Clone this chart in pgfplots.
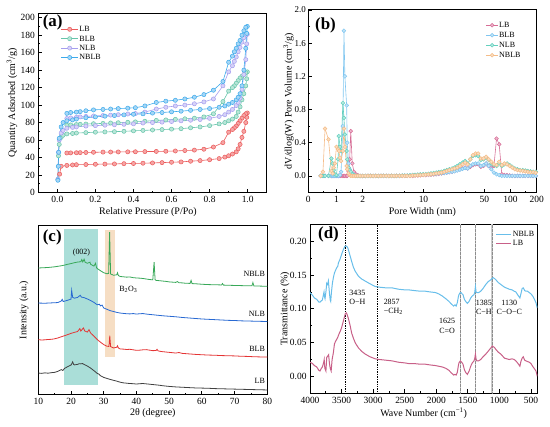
\documentclass[border=0pt]{standalone}
\usepackage{fontspec}
\setmainfont{Liberation Serif}
\usepackage{pgfplots}
\usepackage{pgfplotstable}
\pgfplotsset{compat=1.18}
% panel a
\definecolor{aLB}{RGB}{235,90,90}\definecolor{aLBf}{RGB}{245,165,165}
\definecolor{aBLB}{RGB}{102,196,170}\definecolor{aBLBf}{RGB}{185,230,216}
\definecolor{aNLB}{RGB}{165,158,238}\definecolor{aNLBf}{RGB}{214,210,248}
\definecolor{aNBLB}{RGB}{60,170,235}\definecolor{aNBLBf}{RGB}{165,214,246}
% panel b
\definecolor{bLB}{RGB}{214,110,150}\definecolor{bLBf}{RGB}{238,180,204}
\definecolor{bBLB}{RGB}{128,198,240}\definecolor{bBLBf}{RGB}{192,228,248}
\definecolor{bNLB}{RGB}{100,208,190}\definecolor{bNLBf}{RGB}{178,234,224}
\definecolor{bNBLB}{RGB}{245,188,136}\definecolor{bNBLBf}{RGB}{250,222,192}
% panel c
\definecolor{cLB}{RGB}{64,64,64}\definecolor{cBLB}{RGB}{228,52,52}
\definecolor{cNLB}{RGB}{40,105,210}\definecolor{cNBLB}{RGB}{56,168,88}
\definecolor{cTeal}{RGB}{170,222,216}\definecolor{cOr}{RGB}{246,222,196}
% panel d
\definecolor{dNBLB}{RGB}{104,190,234}\definecolor{dLB}{RGB}{200,96,136}

\pgfplotsset{
  myax/.style={
    scale only axis, anchor=south west,
    tick align=inside, tick pos=left,
    axis line style={line width=1bp},
    major tick length=4bp, minor tick length=2bp,
    every tick/.style={line width=0.8bp, black},
    tick label style={font=\fontsize{9.5}{11}\selectfont},
    label style={font=\fontsize{10}{12}\selectfont},
    /pgf/number format/assume math mode=true,
    /pgf/number format/1000 sep={},
    scaled ticks=false,
  },
  pa/.style 2 args={color=#1, line width=0.6bp, mark=*, mark size=2.1bp,
     mark options={fill=#2, draw=#1, line width=0.5bp, solid}},
}

\pgfplotstableread{
x LB BLB NLB NBLB
0.66 0 0 0 0
0.70 0 0 0 0.05
0.74 0 0 0 0.57
0.81 0 0 0 0.44
0.875 0 0 0.21 0.06
0.906 0 0 0.15 0.03
0.93 0 0 0.07 0.10
0.96 0 0 0.02 0.15
1.0 0 0 0.01 0.35
1.045 0 0 0.20 0.32
1.065 0 0 0.48 0.30
1.10 0 0.01 0.35 0.22
1.13 0 0.05 0.30 0.18
1.185 0 0.60 0.88 0.30
1.22 0 1.75 0.70 0.57
1.25 0 1.20 0.50 0.35
1.31 0 0.85 0.30 0.12
1.33 0 0.40 0.20 0.08
1.38 0.05 0.15 0.10 0.03
1.42 0.20 0.08 0.07 0.01
1.46 0.54 0.05 0.05 0
1.52 0.15 0.03 0.02 0
1.59 0.05 0.01 0.01 0
1.67 0.02 0 0 0
1.76 0.01 0 0 0
1.87 0 0 0 0
2.0 0 0 0 0
2.15 0 0 0 0
2.3 0 0 0 0
2.46 0 0 0 0
2.64 0 0 0 0
2.83 0 0 0 0
3.03 0 0 0 0
3.25 0 0 0 0
3.48 0 0 0 0
3.73 0 0 0 0
4.0 0 0 0 0
4.3 0 0 0 0
4.6 0 0 0 0
4.9 0 0 0 0
5.3 0 0 0 0
5.7 0 0.003 0.003 0
6.1 0 0.004 0.004 0
6.5 0 0.004 0.004 0
7.0 0 0.005 0.005 0
7.5 0 0.01 0.01 0.005
8.0 0.005 0.01 0.012 0.005
8.6 0.005 0.012 0.015 0.008
9.2 0.008 0.015 0.018 0.01
9.9 0.01 0.015 0.02 0.012
10.6 0.01 0.015 0.022 0.015
11.4 0.012 0.018 0.025 0.018
12.2 0.015 0.02 0.03 0.02
13.1 0.018 0.022 0.035 0.025
14.0 0.02 0.025 0.04 0.03
15.0 0.025 0.03 0.045 0.035
16.1 0.03 0.032 0.05 0.04
17.3 0.035 0.035 0.06 0.05
18.5 0.04 0.04 0.07 0.06
19.8 0.045 0.045 0.08 0.07
21.3 0.05 0.05 0.09 0.08
22.8 0.06 0.055 0.1 0.09
24.4 0.07 0.065 0.12 0.1
26.2 0.08 0.075 0.14 0.12
28.1 0.09 0.085 0.16 0.14
30.1 0.1 0.095 0.18 0.16
32.2 0.09 0.09 0.15 0.14
34.5 0.11 0.12 0.2 0.2
37.0 0.13 0.14 0.24 0.25
39.7 0.14 0.15 0.25 0.27
42.5 0.14 0.15 0.24 0.27
45.6 0.11 0.12 0.19 0.21
48.9 0.12 0.13 0.2 0.21
52.4 0.15 0.15 0.22 0.23
56.1 0.12 0.12 0.19 0.2
60.2 0.1 0.08 0.15 0.17
64.5 0.12 0.04 0.13 0.14
69.1 0.45 0.02 0.12 0.13
74.1 0.38 0.01 0.15 0.17
79.4 0.02 0 0.12 0.13
85.1 0.01 0 0.14 0.15
91.2 0.01 0 0.15 0.14
97.7 0.005 0 0.13 0.12
104.7 0 0 0.11 0.1
112.2 0 0 0.09 0.08
120.2 0 0 0.08 0.07
128.8 0 0 0.07 0.065
138.0 0 0 0.07 0.06
147.9 0 0 0.065 0.055
158.5 0 0 0.06 0.05
169.8 0 0 0.055 0.045
182.0 0 0 0.05 0.045
195.0 0 0 0.05 0.04
}\psdtable

\begin{document}
\begin{tikzpicture}[x=1bp,y=1bp]
\path[use as bounding box] (0,0) rectangle (550,426);

%%%%%%%%%%%%%%%% (a)
\begin{axis}[myax,
  at={(38.3bp,233.5bp)}, width=228.4bp, height=179.2bp,
  xmin=-0.1, xmax=1.1, ymin=0, ymax=205,
  xtick={0,0.2,0.4,0.6,0.8,1.0}, ytick={0,20,...,200},
  minor x tick num=1, minor y tick num=1,
  xticklabel style={/pgf/number format/.cd, fixed, fixed zerofill, precision=1},
  xlabel={Relative Pressure (P/Po)},
  ylabel={Quantity Adsorbed (cm\textsuperscript{3}/g)},
  xlabel style={at={(axis description cs:0.48,-0.109)}, anchor=center},
  ylabel style={at={(axis description cs:-0.115,0.5)}, anchor=center},
  legend style={at={(axis description cs:0.098,0.938)}, anchor=north west, draw=none, fill=none,
    inner sep=0pt, font=\fontsize{8}{9}\selectfont, row sep=0pt,
    nodes={inner sep=1bp, text height=6bp, text depth=1.4bp}},
  legend cell align=left,
]
\addplot[pa={aLB}{aLBf}] coordinates {
(0.012,21)(0.02,30)(0.05,31)(0.08,31.5)(0.1,31.8)(0.15,32)(0.2,32.3)(0.25,32.5)(0.3,32.7)(0.35,33)(0.4,33.2)(0.45,33.5)(0.5,33.8)(0.55,34.2)(0.6,34.6)(0.65,35)(0.7,35.8)(0.75,36.5)(0.8,37.5)(0.85,38.8)(0.88,40.5)(0.9,42)(0.92,44)(0.94,46.5)(0.95,50)(0.96,55)(0.97,63)(0.98,70)(0.99,80)(0.995,86)
(0.998,91)(0.99,90)(0.98,88)(0.97,85)(0.96,82)(0.95,79)(0.94,76)(0.93,74)(0.92,72)(0.9,69)(0.87,57)(0.82,52)(0.77,49.5)(0.72,48.5)(0.67,48)(0.62,47.5)(0.57,47.2)(0.52,47)(0.46,46.8)(0.41,46.6)(0.37,46.5)(0.32,46.4)(0.28,46.3)(0.24,46.2)(0.19,46)(0.15,45.8)(0.12,45.6)(0.1,45.5)(0.07,45.3)(0.05,45.2)};
\addlegendentry{LB}
\addplot[pa={aBLB}{aBLBf}] coordinates {
(0.003,15)(0.006,42)(0.01,55)(0.02,63)(0.03,65.5)(0.05,67)(0.08,67.5)(0.1,68)(0.15,68.5)(0.2,69)(0.25,69.3)(0.3,69.6)(0.35,70)(0.4,70.5)(0.45,71)(0.5,71.5)(0.55,72)(0.6,72.5)(0.65,73)(0.7,74)(0.75,75)(0.8,76.5)(0.85,78.5)(0.88,80)(0.9,82)(0.92,84)(0.94,87)(0.95,92)(0.96,98)(0.97,106)(0.98,113)(0.99,122)(0.995,130)
(0.998,138)(0.99,137)(0.98,135)(0.97,133)(0.96,131)(0.95,128)(0.94,125)(0.93,122)(0.92,120)(0.9,116)(0.87,104)(0.82,90)(0.77,86.5)(0.72,85)(0.67,84.3)(0.62,83.7)(0.57,83)(0.52,82.5)(0.46,81.5)(0.41,80.8)(0.37,80.3)(0.32,79.8)(0.28,79.5)(0.24,79)(0.19,78.7)(0.15,78.3)(0.12,78)(0.1,77.7)(0.07,77.3)(0.05,77)};
\addlegendentry{BLB}
\addplot[pa={aNLB}{aNLBf}] coordinates {
(0.003,15)(0.006,46)(0.01,60)(0.02,68)(0.03,71)(0.05,73.5)(0.08,74.5)(0.1,75)(0.15,76)(0.2,76.5)(0.25,77)(0.3,77.5)(0.35,78)(0.4,78.5)(0.45,79.5)(0.5,80)(0.55,80.5)(0.6,81.2)(0.65,82)(0.7,82.7)(0.75,83.5)(0.8,84.8)(0.85,87)(0.88,89)(0.9,92)(0.92,95)(0.94,99.5)(0.95,103)(0.96,108)(0.97,118)(0.98,135)(0.99,152)(0.995,170)
(0.998,181)(0.99,180)(0.98,177)(0.97,172)(0.96,166)(0.95,161)(0.94,155)(0.93,150)(0.92,145)(0.9,138)(0.87,122)(0.82,107)(0.77,103.6)(0.72,101.5)(0.67,100)(0.62,99)(0.57,97.5)(0.52,95.5)(0.46,92)(0.41,90.3)(0.37,89.8)(0.32,89)(0.28,88.5)(0.24,88)(0.19,87.5)(0.15,87)(0.12,86.5)(0.1,86)(0.07,85.3)(0.05,84.6)};
\addlegendentry{NLB}
\addplot[pa={aNBLB}{aNBLBf}] coordinates {
(0.003,14)(0.005,30)(0.007,46)(0.01,62)(0.02,75)(0.03,80)(0.05,82)(0.08,83)(0.1,84)(0.15,85.5)(0.2,86.5)(0.25,87.3)(0.3,88)(0.35,88.8)(0.4,89.5)(0.45,90)(0.5,90.8)(0.55,91.5)(0.6,92.3)(0.65,93)(0.7,94)(0.75,95)(0.8,96)(0.85,97.5)(0.88,99)(0.9,101)(0.92,103)(0.94,106)(0.95,109)(0.96,113)(0.97,122)(0.98,140)(0.99,165)(0.995,182)
(0.998,190)(0.99,189)(0.98,185)(0.97,180)(0.96,174)(0.95,170)(0.94,165)(0.93,161)(0.92,156)(0.9,149)(0.87,127)(0.82,117)(0.77,112)(0.72,109)(0.67,107)(0.62,105.5)(0.57,104.5)(0.52,103)(0.46,99)(0.41,97)(0.37,96.5)(0.32,96)(0.28,95.5)(0.24,95)(0.19,94.5)(0.15,93.5)(0.12,92.5)(0.1,92)(0.07,91.5)(0.05,90.5)};
\addlegendentry{NBLB}
\node[anchor=west, font=\fontsize{17}{17}\bfseries\selectfont, inner sep=0pt] at (axis description cs:0.019,0.948) {(a)};
\end{axis}

%%%%%%%%%%%%%%%% (b)
\begin{axis}[myax,
  at={(308.3bp,233.5bp)}, width=228.4bp, height=182.5bp,
  xmode=log, xmin=0.475, xmax=200, ymin=-0.2, ymax=2.0,
  xtick={0.475,1,2,10,50,100,200}, xticklabels={0,1,2,10,50,100,200},
  minor xtick={0.7,1.45,6,30,150},
  ytick={0,0.4,...,2.0}, minor y tick num=1,
  yticklabel style={font=\fontsize{9}{10}\selectfont, inner sep=2.2bp, /pgf/number format/.cd, fixed, fixed zerofill, precision=1},
  xlabel={Pore Width (nm)},
  ylabel={dV/dlog(W) Pore Volume (cm\textsuperscript{3}/g)},
  xlabel style={at={(axis description cs:0.5,-0.107)}, anchor=center},
  ylabel style={at={(axis description cs:-0.086,0.5)}, anchor=center},
  legend style={at={(axis description cs:0.777,0.945)}, anchor=north west, draw=none, fill=none,
    inner sep=0pt, font=\fontsize{8}{9}\selectfont, row sep=0pt,
    nodes={inner sep=1bp, text height=6bp, text depth=2bp}},
  legend cell align=left,
  legend image code/.code={\draw[#1, mark repeat=2, mark phase=2] plot coordinates {(0bp,0bp) (5.8bp,0bp) (11.6bp,0bp)};},
]
\addplot[pa={bLB}{bLBf}, mark size=1.9bp] table[x=x,y=LB] {\psdtable};
\addlegendentry{LB}
\addplot[pa={bBLB}{bBLBf}, mark size=1.9bp] table[x=x,y=BLB] {\psdtable};
\addlegendentry{BLB}
\addplot[pa={bNLB}{bNLBf}, mark size=1.9bp] table[x=x,y=NLB] {\psdtable};
\addlegendentry{NLB}
\addplot[pa={bNBLB}{bNBLBf}, mark size=1.9bp] table[x=x,y=NBLB] {\psdtable};
\addlegendentry{NBLB}
\node[anchor=west, font=\fontsize{17}{17}\bfseries\selectfont, inner sep=0pt] at (axis description cs:0.029,0.918) {(b)};
\end{axis}

%%%%%%%%%%%%%%%% (c)
\begin{axis}[myax,
  at={(38.3bp,31.3bp)}, width=229bp, height=169.4bp,
  xmin=10, xmax=80, ymin=0, ymax=100,
  xtick={10,20,...,80}, minor x tick num=1, ytick=\empty,
  xlabel={2θ (degree)}, ylabel={Intensity (a.u.)},
  xlabel style={at={(axis description cs:0.5,-0.108)}, anchor=center},
  ylabel style={at={(axis description cs:-0.0625,0.5)}, anchor=center},
]
\fill[cTeal] (axis cs:17.8,5.7) rectangle (axis cs:28.1,97.8);
\fill[cOr] (axis cs:30.4,22.4) rectangle (axis cs:33.5,97.4);
\addplot[cLB, line width=0.8bp] coordinates {
(10,12.8)(11,12.6)(12,12.9)(13,12.7)(14,13.0)(15,13.2)(16,13.8)(17,14.8)(17.5,14.3)(18,15.5)(19,16.6)(20,17.5)(20.3,18.6)(20.5,19.4)(20.8,17.9)(21,17.6)(22,17.9)(22.5,18.3)(23,18.2)(23.5,18.4)(24,17.9)(25,16.9)(26,15.7)(27,14.2)(28,12.6)(28.5,12.2)(29,11.2)(30,10.2)(31,9.6)(32,9.0)(33,8.5)(34,8.0)(35,7.4)(36,7.0)(37,6.8)(38,6.6)(39,6.5)(40,6.3)(41,6.5)(42,6.6)(43,6.4)(44,6.2)(45,6.0)(46,5.8)(47,5.6)(48,5.3)(49,5.1)(50,4.9)(52,4.6)(54,4.4)(56,4.2)(58,4.0)(60,3.9)(62,3.8)(64,3.6)(66,3.5)(68,3.4)(70,3.3)(72,3.2)(74,3.1)(76,3.0)(78,2.9)(80,2.8)};
\addplot[cBLB, line width=0.8bp] coordinates {
(10,32.5)(11,32.3)(12,32.4)(13,32.6)(14,32.7)(15,33.0)(16,33.5)(17,34.2)(18,34.8)(19,35.5)(20,36.2)(21,36.8)(22,37.3)(22.7,39.0)(23.0,37.6)(23.8,39.4)(24.2,37.6)(25,37.0)(25.5,38.4)(26,36.4)(27,34.6)(28,32.6)(29,31.0)(30,29.6)(31,28.6)(31.6,28.5)(31.85,34.8)(32.1,28.4)(33,27.6)(34,28.0)(34.2,28.9)(34.5,27.6)(35,27.0)(36,26.9)(37,26.7)(38,26.8)(39,26.5)(40,26.2)(41,26.3)(42,26.5)(43,26.6)(44,26.3)(45,26.0)(46,26.1)(46.3,26.8)(46.6,25.9)(47,25.7)(48,25.4)(50,25.0)(52,24.6)(53,24.9)(54,24.4)(56,24.1)(58,23.8)(60,23.6)(62,23.4)(64,23.3)(66,23.1)(68,23.0)(70,22.9)(72,22.7)(74,22.6)(76,22.4)(78,22.3)(80,22.2)};
\addplot[cNLB, line width=0.8bp] coordinates {
(10,54.1)(12,54.0)(14,54.2)(16,54.4)(17,55.3)(17.3,56.3)(17.6,55.0)(18,55.2)(19,55.8)(20,56.4)(20.2,61.6)(20.5,57.5)(21,57.0)(22,57.4)(22.8,58.7)(23.2,57.6)(24,57.3)(25,56.5)(26,55.6)(27,54.5)(28,53.1)(28.7,53.4)(29,52.4)(29.5,52.9)(30,51.2)(31,50.4)(32,49.6)(33,49.1)(34,48.6)(35,48.2)(36,48.0)(37,47.8)(38,47.7)(39,47.9)(40,47.6)(41,47.8)(42,47.9)(43,47.6)(44,47.4)(45,47.2)(46,47.0)(47,46.8)(48,46.6)(50,46.3)(52,46.0)(54,45.6)(56,45.3)(58,45.0)(60,44.7)(62,44.5)(64,44.3)(66,44.1)(68,43.9)(70,43.8)(72,43.6)(74,43.5)(76,43.4)(78,43.3)(80,43.2)};
\addplot[cNBLB, line width=0.8bp] coordinates {
(10,74.8)(11,74.9)(12,75.0)(13,75.1)(14,75.3)(15,75.5)(16,75.8)(17,76.1)(18,76.5)(19,77.0)(20,77.4)(21,77.9)(22,78.3)(23,78.5)(23.3,79.8)(23.6,78.4)(24.0,80.0)(24.3,78.2)(25,77.6)(25.8,78.2)(26,77.0)(27,75.9)(27.5,77.6)(27.8,75.0)(28,74.5)(29,73.2)(30,72.0)(31,71.4)(31.5,71.6)(31.8,96.0)(32.1,71.3)(33,70.5)(34,70.8)(34.2,72.0)(34.5,70.3)(35,69.8)(36,69.6)(37,69.4)(38,69.5)(39,69.1)(40,68.9)(41,68.8)(42,68.6)(43,68.3)(44,68.0)(45,67.8)(45.2,73.0)(45.4,78.3)(45.7,67.9)(46,67.5)(47,67.3)(48,67.1)(49,66.9)(50,66.6)(52,66.3)(52.5,66.8)(53,66.1)(54,66.0)(55,65.8)(56.4,65.7)(56.7,67.5)(57,65.6)(58,65.5)(60,65.2)(62,65.0)(64,64.9)(66,64.8)(66.3,65.6)(66.6,64.7)(68,64.6)(70,64.5)(72,64.4)(74,64.3)(75.3,64.3)(75.6,66.2)(75.9,64.2)(78,64.1)(80,64.0)};
\node[anchor=west, font=\fontsize{17}{17}\bfseries\selectfont, inner sep=0pt] at (axis description cs:0.019,0.931) {(c)};
\node[font=\fontsize{8}{9}\selectfont] at (axis cs:23.2,83.7) {(002)};
\node[anchor=west, font=\fontsize{8}{9}\selectfont, inner sep=0pt] at (axis cs:34.7,62) {B\textsubscript{2}O\textsubscript{3}};
\node[anchor=east, font=\fontsize{8}{9}\selectfont, inner sep=0pt] at (axis cs:79.3,71.3) {NBLB};
\node[anchor=east, font=\fontsize{8}{9}\selectfont, inner sep=0pt] at (axis cs:79.3,47.6) {NLB};
\node[anchor=east, font=\fontsize{8}{9}\selectfont, inner sep=0pt] at (axis cs:79.3,27.0) {BLB};
\node[anchor=east, font=\fontsize{8}{9}\selectfont, inner sep=0pt] at (axis cs:79.3,8.3) {LB};
\end{axis}

%%%%%%%%%%%%%%%% (d)
\begin{axis}[myax,
  at={(310bp,32.7bp)}, width=227.3bp, height=169bp,
  x dir=reverse, xmin=400, xmax=4000, ymin=-0.025, ymax=0.225,
  xtick={500,1000,...,4000}, minor x tick num=1,
  ytick={0,0.05,...,0.2}, minor y tick num=1,
  yticklabel style={/pgf/number format/.cd, fixed, fixed zerofill, precision=2},
  xlabel={Wave Number (cm\textsuperscript{−1})}, ylabel={Transmittance (\%)},
  xlabel style={at={(axis description cs:0.5,-0.118)}, anchor=center},
  ylabel style={at={(axis description cs:-0.11,0.5)}, anchor=center},
  legend style={at={(axis description cs:0.817,0.97)}, anchor=north west, draw=none, fill=none,
    inner sep=0pt, font=\fontsize{8}{9}\selectfont, row sep=0pt,
    nodes={inner sep=1bp, text height=6bp, text depth=1.2bp}},
  legend cell align=left,
  legend image code/.code={\draw[#1] (0bp,0bp) -- (15bp,0bp);},
]
\addplot[black, densely dotted, line width=0.7bp, forget plot] coordinates {(3435,-0.025)(3435,0.225)};
\addplot[black, densely dotted, line width=0.7bp, forget plot] coordinates {(2930,-0.025)(2930,0.225)};
\addplot[black!20, line width=1.5bp, forget plot] coordinates {(1620,-0.025)(1620,0.225)};
\addplot[black!20, line width=1.5bp, forget plot] coordinates {(1380,-0.025)(1380,0.225)};
\addplot[black!20, line width=1.5bp, forget plot] coordinates {(1115,-0.025)(1115,0.225)};
\addplot[black!45, densely dotted, line width=0.35bp, forget plot] coordinates {(1620,-0.025)(1620,0.225)};
\addplot[black!45, densely dotted, line width=0.35bp, forget plot] coordinates {(1380,-0.025)(1380,0.225)};
\addplot[black!45, densely dotted, line width=0.35bp, forget plot] coordinates {(1115,-0.025)(1115,0.225)};
\addplot[dNBLB, line width=1bp] coordinates {
(4000,0.124)(3960,0.12)(3930,0.116)(3894,0.114)(3860,0.11)(3841,0.11)(3820,0.112)(3804,0.113)(3785,0.122)(3778,0.125)(3770,0.118)(3762,0.115)(3748,0.125)(3735,0.138)(3720,0.136)(3709,0.141)(3700,0.132)(3693,0.124)(3680,0.113)(3672,0.111)(3660,0.125)(3645,0.138)(3630,0.146)(3613,0.153)(3595,0.157)(3576,0.161)(3560,0.163)(3550,0.168)(3530,0.172)(3508,0.178)(3490,0.183)(3470,0.188)(3450,0.192)(3433,0.193)(3415,0.192)(3401,0.19)(3385,0.185)(3364,0.178)(3340,0.17)(3311,0.161)(3280,0.155)(3231,0.148)(3180,0.144)(3125,0.141)(3050,0.137)(2966,0.133)(2900,0.132)(2800,0.131)(2701,0.131)(2600,0.129)(2500,0.128)(2436,0.128)(2350,0.127)(2250,0.126)(2171,0.126)(2100,0.125)(2012,0.124)(1960,0.122)(1906,0.119)(1850,0.115)(1800,0.111)(1760,0.107)(1747,0.106)(1725,0.104)(1704,0.106)(1685,0.104)(1667,0.109)(1650,0.118)(1641,0.121)(1620,0.124)(1609,0.124)(1590,0.122)(1577,0.121)(1555,0.114)(1535,0.111)(1508,0.108)(1480,0.111)(1455,0.116)(1430,0.119)(1402,0.121)(1390,0.125)(1380,0.133)(1370,0.125)(1359,0.124)(1330,0.124)(1296,0.126)(1260,0.13)(1216,0.136)(1180,0.14)(1137,0.143)(1100,0.146)(1080,0.145)(1057,0.143)(1020,0.139)(978,0.136)(920,0.132)(845,0.129)(800,0.128)(766,0.126)(740,0.125)(713,0.121)(690,0.118)(676,0.116)(660,0.122)(640,0.13)(623,0.131)(600,0.127)(580,0.126)(555,0.126)(527,0.124)(500,0.122)(474,0.119)(450,0.115)(421,0.109)(400,0.101)};
\addlegendentry{NBLB}
\addplot[dLB, line width=1bp] coordinates {
(4000,0.021)(3960,0.019)(3930,0.016)(3894,0.014)(3860,0.009)(3841,0.008)(3820,0.012)(3804,0.014)(3785,0.02)(3775,0.025)(3765,0.012)(3748,0.008)(3735,0.028)(3720,0.03)(3705,0.032)(3693,0.02)(3680,0.012)(3665,0.008)(3650,0.025)(3630,0.035)(3613,0.048)(3595,0.052)(3576,0.055)(3560,0.058)(3540,0.063)(3520,0.067)(3500,0.072)(3480,0.079)(3460,0.086)(3440,0.093)(3425,0.094)(3410,0.091)(3390,0.085)(3364,0.075)(3340,0.064)(3311,0.056)(3280,0.049)(3231,0.042)(3180,0.037)(3125,0.033)(3050,0.029)(2966,0.026)(2900,0.025)(2800,0.024)(2701,0.023)(2600,0.021)(2500,0.02)(2436,0.019)(2350,0.019)(2250,0.018)(2171,0.018)(2100,0.017)(2012,0.016)(1960,0.015)(1906,0.014)(1850,0.012)(1800,0.009)(1760,0.005)(1747,0.004)(1725,0.002)(1704,0.003)(1685,0.002)(1667,0.006)(1650,0.016)(1641,0.02)(1620,0.023)(1609,0.022)(1590,0.02)(1577,0.018)(1555,0.01)(1535,0.006)(1508,0.003)(1480,0.008)(1455,0.015)(1430,0.02)(1402,0.023)(1390,0.027)(1380,0.033)(1370,0.026)(1359,0.023)(1330,0.023)(1296,0.025)(1260,0.029)(1216,0.033)(1180,0.037)(1137,0.042)(1110,0.045)(1100,0.044)(1080,0.043)(1057,0.04)(1020,0.036)(978,0.033)(920,0.027)(845,0.025)(800,0.026)(766,0.025)(740,0.023)(713,0.02)(690,0.017)(676,0.015)(660,0.022)(640,0.027)(623,0.029)(600,0.024)(580,0.023)(555,0.022)(527,0.021)(500,0.019)(474,0.015)(450,0.012)(421,0.008)(400,0.0)};
\addlegendentry{LB}
\node[anchor=west, font=\fontsize{17}{17}\bfseries\selectfont, inner sep=0pt] at (axis description cs:0.035,0.938) {(d)};
\node[anchor=west, align=left, font=\fontsize{8}{9.5}\selectfont, inner sep=0pt] at (axis cs:3380,0.117) {3435\\O−H};
\node[anchor=west, align=left, font=\fontsize{8}{9.5}\selectfont, inner sep=0pt] at (axis cs:2835,0.103) {2857\\−CH\textsubscript{2}};
\node[align=center, font=\fontsize{8}{9.5}\selectfont, inner sep=0pt] at (axis cs:1827,0.075) {1625\\C=O};
\node[align=center, font=\fontsize{8}{9.5}\selectfont, inner sep=0pt] at (axis cs:1245,0.102) {1385\\C−H};
\node[align=center, font=\fontsize{8}{9.5}\selectfont, inner sep=0pt] at (axis cs:845,0.102) {1130\\C−O−C};
\end{axis}
\end{tikzpicture}
\end{document}
